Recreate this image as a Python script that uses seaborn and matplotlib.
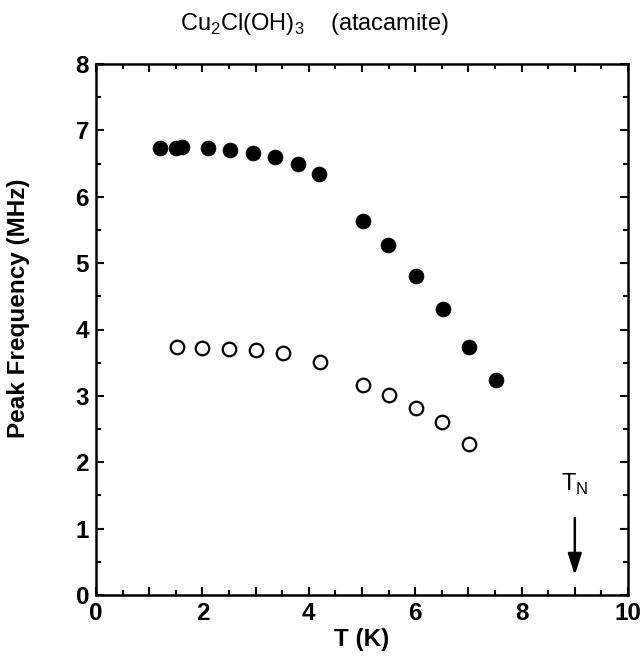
import seaborn as sns
import numpy as np
import pandas as pd
import matplotlib
matplotlib.use('Agg')
import matplotlib.pyplot as plt
from matplotlib.ticker import MultipleLocator

# high-frequency branch (filled circles)
t_high = [1.20, 1.50, 1.62, 2.11, 2.52, 2.96, 3.36, 3.80, 4.20, 5.01, 5.48, 6.01, 6.52, 7.01, 7.52]
f_high = [6.73, 6.74, 6.75, 6.73, 6.70, 6.66, 6.60, 6.49, 6.34, 5.64, 5.28, 4.80, 4.31, 3.73, 3.24]

# low-frequency branch (open circles)
t_low = [1.52, 2.00, 2.50, 3.01, 3.51, 4.21, 5.01, 5.51, 6.01, 6.51, 7.01]
f_low = [3.73, 3.72, 3.71, 3.69, 3.64, 3.51, 3.16, 3.02, 2.81, 2.60, 2.27]

t_neel = 9.0

sns.set_style('ticks')
plt.rcParams['font.family'] = ['Liberation Sans', 'DejaVu Sans']
plt.rcParams['mathtext.fontset'] = 'custom'
plt.rcParams['mathtext.rm'] = 'Liberation Sans'
plt.rcParams['mathtext.bf'] = 'Liberation Sans:bold'
plt.rcParams['text.color'] = 'k'
plt.rcParams['axes.labelcolor'] = 'k'

df_high = pd.DataFrame({'T': t_high, 'f': f_high})
df_low = pd.DataFrame({'T': t_low, 'f': f_low})

fig = plt.figure(figsize=(6.43, 6.60), dpi=100)
ax = fig.add_axes([96/643, 1 - 595/660, (628 - 96)/643, (595 - 64)/660])

sns.scatterplot(data=df_high, x='T', y='f', ax=ax, color='k', s=115,
                edgecolor='k', linewidth=0.5, zorder=3)
sns.scatterplot(data=df_low, x='T', y='f', ax=ax, facecolor='white', s=95,
                edgecolor='k', linewidth=1.6, zorder=3)

ax.set_xlim(0, 10)
ax.set_ylim(0, 8)
ax.xaxis.set_minor_locator(MultipleLocator(0.5))
ax.yaxis.set_minor_locator(MultipleLocator(0.5))
ax.set_xticks(np.arange(0, 11, 1))
ax.set_xticklabels([str(i) if i % 2 == 0 else '' for i in range(11)])
ax.set_yticks(np.arange(0, 9, 1))
ax.set_yticklabels([str(i) for i in range(9)])

ax.tick_params(which='both', direction='in', top=True, right=True, width=1.5,
               labelsize=17.5, colors='k')
ax.tick_params(which='major', length=6, pad=5)
ax.tick_params(which='minor', length=3.5)
for lab in ax.get_xticklabels() + ax.get_yticklabels():
  lab.set_fontweight('bold')
for sp in ax.spines.values():
  sp.set_linewidth(1.8)
  sp.set_color('k')

ax.set_xlabel('T (K)', fontsize=17.5, fontweight='bold', labelpad=2)
ax.set_ylabel('Peak Frequency (MHz)', fontsize=17.5, fontweight='bold')
ax.yaxis.set_label_coords(-0.125, 0.54)

# Neel temperature marker
ax.annotate('', xy=(t_neel, 0.30), xytext=(t_neel, 1.16),
            arrowprops=dict(arrowstyle='-|>,head_length=1.3,head_width=0.42',
                            color='k', lw=1.8, shrinkA=0, shrinkB=0))
ax.text(t_neel, 1.66, r'T$_\mathregular{N}$', fontsize=17, ha='center', va='center')

fig.text(315/643, 1 - 24/660, r'Cu$_\mathregular{2}$Cl(OH)$_\mathregular{3}$    (atacamite)',
         fontsize=17, ha='center', va='center')

fig.savefig('out.png', dpi=100)
